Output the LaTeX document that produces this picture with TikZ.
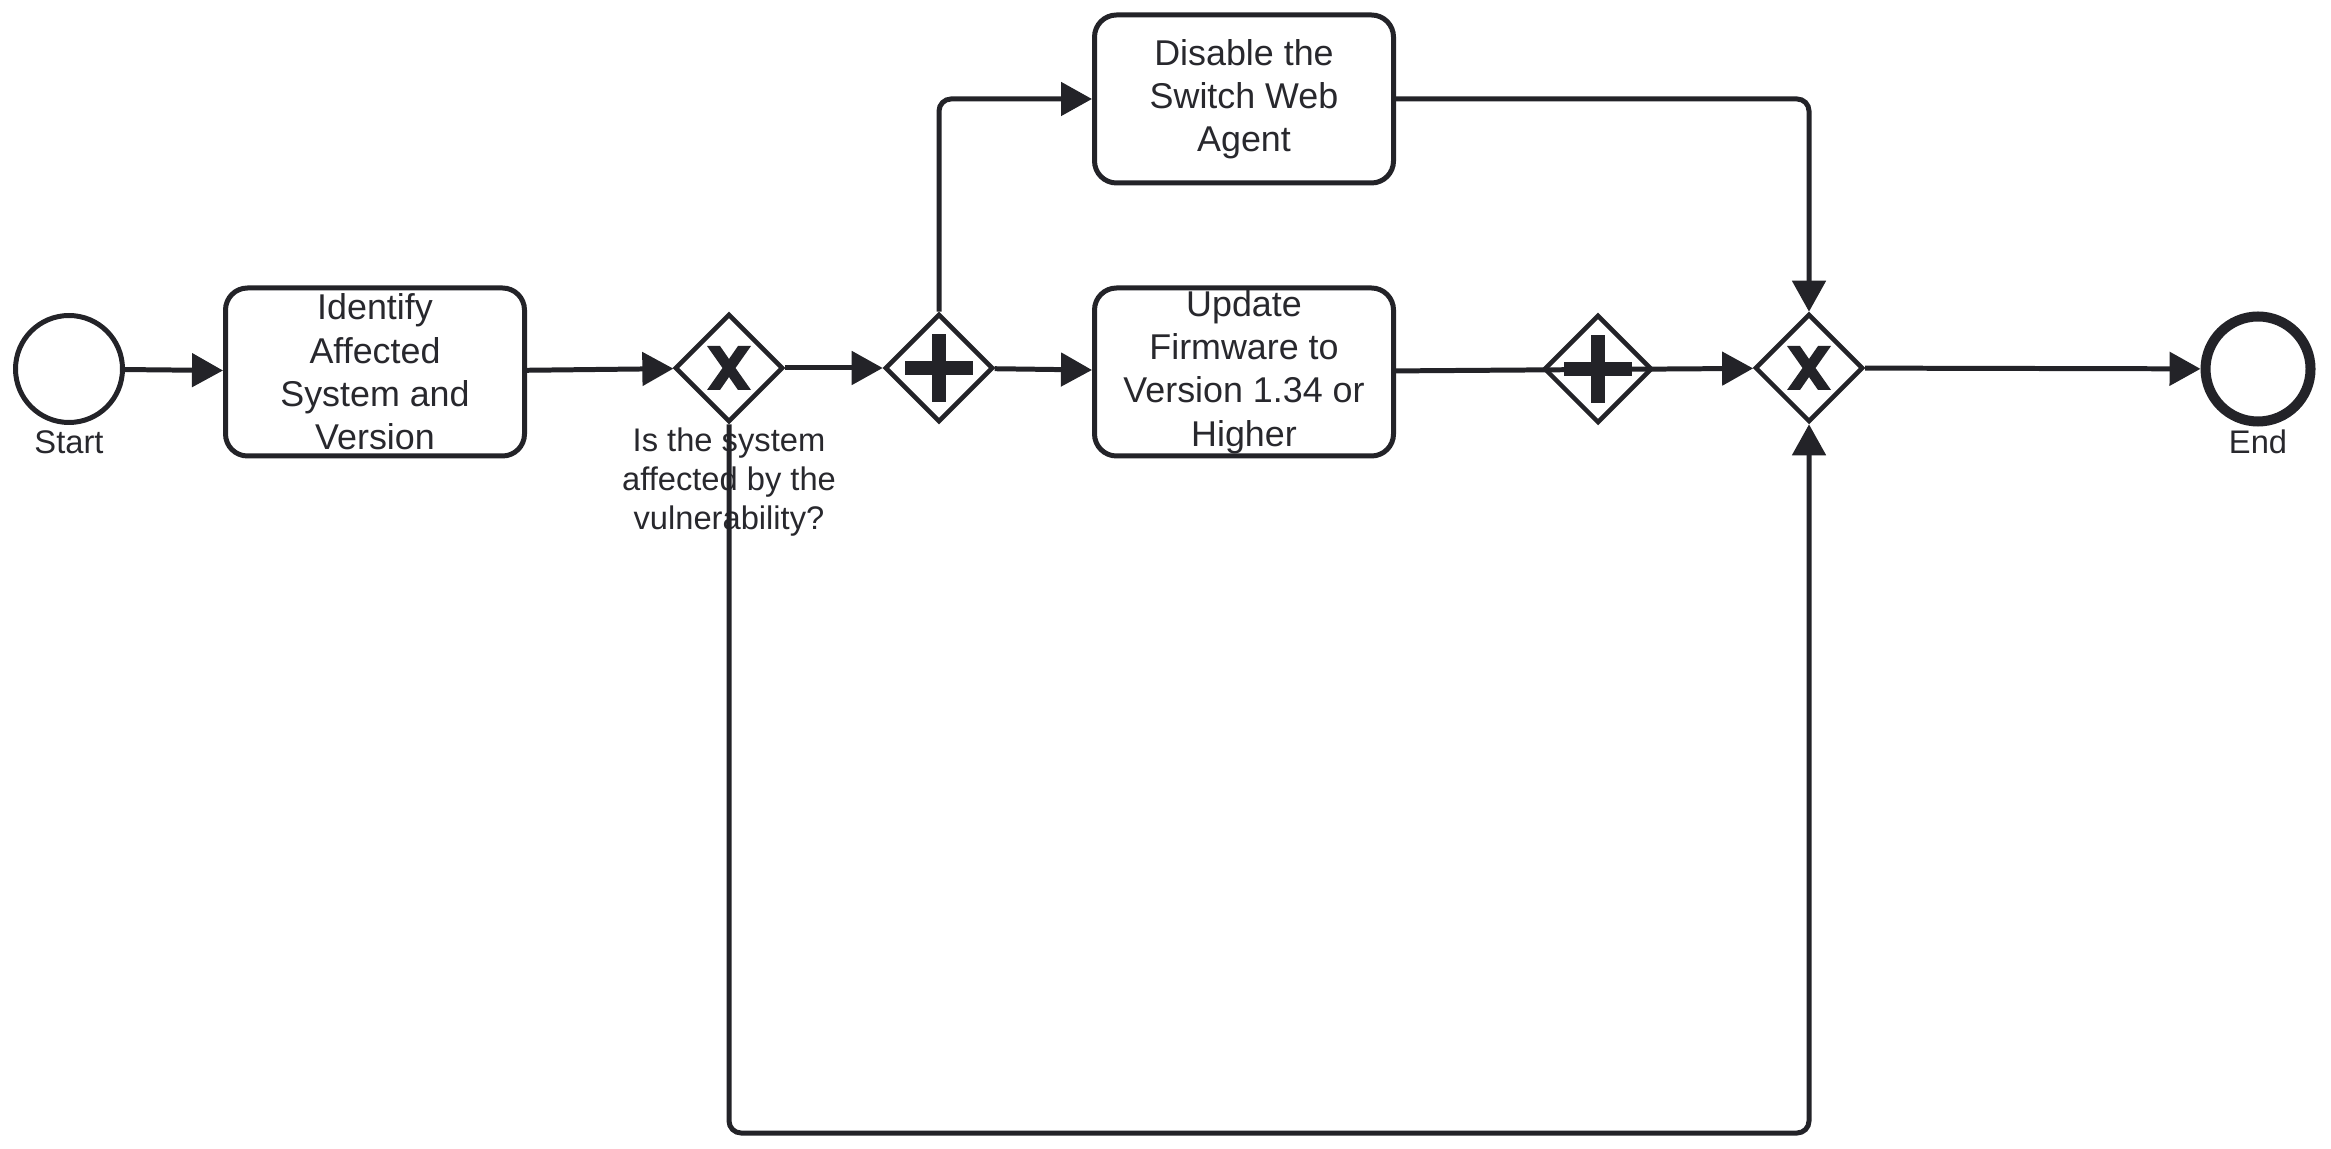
\documentclass[tikz,border=0pt]{standalone}
\usepackage{fontspec}
\setmainfont{Liberation Sans}
\usetikzlibrary{shapes.geometric,arrows.meta,calc}
\definecolor{ink}{HTML}{232328}
\definecolor{txt}{HTML}{28282D}
\begin{document}
\begin{tikzpicture}[x=0.1mm,y=-0.1mm,
  line width=1.42pt, draw=ink,
  event/.style={circle, draw=ink, fill=white, minimum size=10.7mm, inner sep=0pt},
  endevent/.style={event, line width=2.85pt, minimum size=10.5mm},
  task/.style={rectangle, draw=ink, fill=white, rounded corners=2.2mm,
    minimum width=29.9mm, minimum height=16.8mm, inner sep=0pt, align=center,
    text=txt, font=\fontsize{10.2pt}{12.3pt}\selectfont},
  gateway/.style={diamond, draw=ink, fill=white, minimum width=10.8mm,
    minimum height=10.8mm, inner sep=0pt, line width=1.3pt},
  lbl/.style={text=txt, align=center, inner sep=0pt,
    font=\fontsize{9.3pt}{11pt}\selectfont},
  flow/.style={draw=ink, rounded corners=1.2mm, -{Triangle[length=3.1mm,width=3.3mm]}},
  xmark/.pic={\fill[ink] (-22,-22)--(-9,-22)--(0,-9)--(9,-22)--(22,-22)--(6.5,0)
      --(22,22)--(9,22)--(0,9)--(-9,22)--(-22,22)--(-6.5,0)--cycle;},
  plusmark/.pic={\fill[ink] (-34,-7) rectangle (34,7); \fill[ink] (-7,-34) rectangle (7,34);}
]
\useasboundingbox (0,0) rectangle (2331,1149);

% events
\node[event] (start) at (69,369) {};
\node[lbl] (startlbl) at (69,442) {Start};
\node[endevent] (end) at (2258,369) {};
\node[lbl] (endlbl) at (2258,442) {End};

% tasks
\node[task] (ident) at (375,372) {Identify\\Affected\\System and\\Version};
\node[task] (disable) at (1244,99) {Disable the\\Switch Web\\Agent};
\node[task] (update) at (1244,372) {Update\\Firmware to\\Version 1.34 or\\Higher};

% gateways
\node[gateway] (x1) at (729,368) {};
\pic at (x1.center) {xmark};
\node[lbl] (x1lbl) at (729,482) {Is the system\\affected by the\\vulnerability?};
\node[gateway] (p1) at (939,368) {};
\pic at (p1.center) {plusmark};
\node[gateway] (p2) at (1598,369) {};
\pic at (p2.center) {plusmark};
\node[gateway] (x2) at (1809,368) {};
\pic at (x2.center) {xmark};

\coordinate (loopbottom) at (1200,1133);

% sequence flows
\draw[flow] (start) -- (ident);
\draw[flow] (ident) -- (x1);
\draw[flow] (x1) -- (p1);
\draw[flow] (p1) -- (update);
\draw[flow] (p1.north) |- (disable.west);
\draw[flow] (disable.east) -| (x2.north);
\draw[flow] (update) -- (x2);
\draw[flow] (x1.south) |- (loopbottom) -| (x2.south);
\draw[flow] (x2) -- (end);
\end{tikzpicture}
\end{document}
